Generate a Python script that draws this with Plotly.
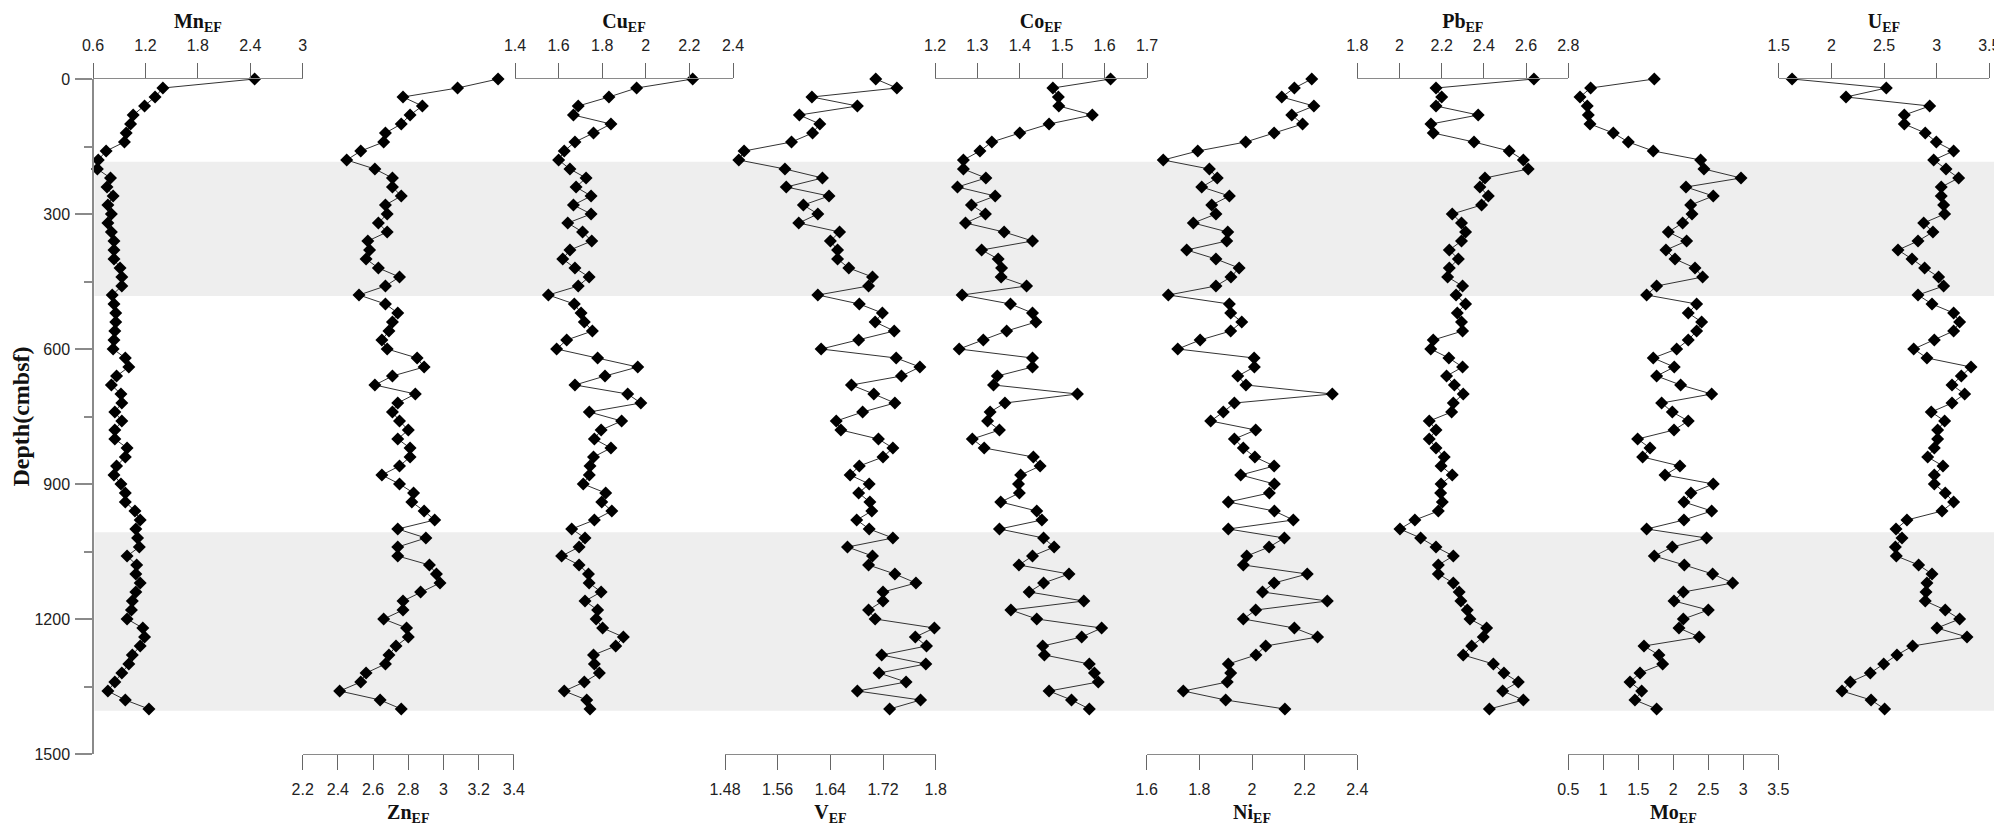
import plotly.graph_objects as go

# ---------------- data ----------------
depth = list(range(0, 1401, 20))

mn = [2.45, 1.40, 1.31, 1.19, 1.06, 1.03, 0.98, 0.96, 0.75, 0.66,
      0.65, 0.80, 0.76, 0.83, 0.77, 0.81, 0.77, 0.81, 0.84, 0.84,
      0.84, 0.91, 0.93, 0.93, 0.82, 0.84, 0.86, 0.86, 0.85, 0.84,
      0.83, 0.97, 1.01, 0.87, 0.81, 0.92, 0.93, 0.85, 0.93, 0.85,
      0.85, 0.99, 0.97, 0.87, 0.84, 0.92, 0.97, 0.97, 1.08, 1.14,
      1.09, 1.11, 1.13, 0.99, 1.10, 1.09, 1.14, 1.09, 1.05, 1.04,
      0.99, 1.17, 1.19, 1.14, 1.05, 1.01, 0.93, 0.85, 0.77, 0.97,
      1.24]

zn = [3.31, 3.08, 2.77, 2.88, 2.81, 2.76, 2.67, 2.66, 2.53, 2.45,
      2.61, 2.71, 2.71, 2.76, 2.67, 2.68, 2.63, 2.68, 2.57, 2.58,
      2.56, 2.63, 2.75, 2.67, 2.52, 2.67, 2.74, 2.71, 2.69, 2.65,
      2.68, 2.85, 2.89, 2.71, 2.61, 2.84, 2.74, 2.71, 2.75, 2.80,
      2.74, 2.81, 2.81, 2.75, 2.65, 2.75, 2.83, 2.82, 2.89, 2.95,
      2.74, 2.90, 2.74, 2.74, 2.92, 2.96, 2.98, 2.87, 2.77, 2.77,
      2.66, 2.79, 2.80, 2.73, 2.69, 2.67, 2.56, 2.53, 2.41, 2.64,
      2.76]

cu = [2.215, 1.958, 1.831, 1.690, 1.668, 1.840, 1.760, 1.675, 1.626, 1.600,
      1.652, 1.726, 1.680, 1.749, 1.668, 1.749, 1.642, 1.710, 1.752, 1.652,
      1.619, 1.675, 1.740, 1.690, 1.553, 1.672, 1.703, 1.718, 1.755, 1.637,
      1.591, 1.779, 1.963, 1.813, 1.675, 1.917, 1.977, 1.741, 1.889, 1.795,
      1.764, 1.840, 1.760, 1.744, 1.741, 1.713, 1.816, 1.798, 1.844, 1.764,
      1.660, 1.721, 1.694, 1.614, 1.694, 1.737, 1.740, 1.795, 1.721, 1.779,
      1.772, 1.802, 1.897, 1.862, 1.760, 1.764, 1.787, 1.718, 1.626, 1.729,
      1.744]

v = [1.709, 1.741, 1.612, 1.681, 1.593, 1.624, 1.613, 1.581, 1.509, 1.501,
     1.571, 1.628, 1.573, 1.638, 1.599, 1.621, 1.592, 1.654, 1.640, 1.651,
     1.651, 1.668, 1.704, 1.698, 1.621, 1.684, 1.719, 1.708, 1.737, 1.683,
     1.626, 1.740, 1.776, 1.748, 1.672, 1.706, 1.738, 1.689, 1.649, 1.656,
     1.713, 1.735, 1.720, 1.684, 1.670, 1.699, 1.683, 1.700, 1.703, 1.680,
     1.699, 1.735, 1.666, 1.704, 1.698, 1.738, 1.770, 1.720, 1.720, 1.698,
     1.708, 1.798, 1.769, 1.786, 1.718, 1.785, 1.714, 1.755, 1.681, 1.777,
     1.730]

co = [1.614, 1.478, 1.491, 1.492, 1.571, 1.469, 1.400, 1.334, 1.306, 1.267,
      1.267, 1.320, 1.253, 1.342, 1.286, 1.319, 1.272, 1.363, 1.430, 1.310,
      1.349, 1.357, 1.356, 1.416, 1.264, 1.378, 1.430, 1.438, 1.369, 1.314,
      1.257, 1.430, 1.430, 1.347, 1.338, 1.536, 1.365, 1.330, 1.324, 1.352,
      1.288, 1.316, 1.432, 1.448, 1.402, 1.397, 1.399, 1.355, 1.440, 1.452,
      1.352, 1.456, 1.481, 1.430, 1.398, 1.516, 1.456, 1.422, 1.551, 1.379,
      1.440, 1.593, 1.546, 1.454, 1.458, 1.564, 1.576, 1.585, 1.469, 1.522,
      1.564]

ni = [2.227, 2.161, 2.113, 2.235, 2.151, 2.192, 2.084, 1.976, 1.794, 1.663,
      1.838, 1.868, 1.809, 1.914, 1.847, 1.863, 1.777, 1.908, 1.904, 1.752,
      1.863, 1.951, 1.920, 1.863, 1.682, 1.914, 1.919, 1.961, 1.919, 1.803,
      1.718, 2.008, 2.009, 1.946, 1.977, 2.305, 1.933, 1.891, 1.843, 2.014,
      1.933, 1.967, 2.011, 2.084, 1.957, 2.085, 2.066, 1.910, 2.085, 2.157,
      1.910, 2.123, 2.065, 1.980, 1.967, 2.210, 2.084, 2.040, 2.286, 2.014,
      1.967, 2.161, 2.249, 2.052, 2.015, 1.910, 1.919, 1.906, 1.739, 1.900,
      2.125]

pb = [2.637, 2.173, 2.200, 2.173, 2.373, 2.149, 2.160, 2.353, 2.520, 2.587,
      2.610, 2.405, 2.381, 2.421, 2.389, 2.250, 2.294, 2.313, 2.294, 2.236,
      2.279, 2.236, 2.228, 2.299, 2.268, 2.313, 2.274, 2.294, 2.299, 2.160,
      2.148, 2.234, 2.299, 2.223, 2.260, 2.302, 2.255, 2.247, 2.141, 2.173,
      2.141, 2.173, 2.212, 2.197, 2.250, 2.197, 2.195, 2.203, 2.184, 2.073,
      2.002, 2.100, 2.173, 2.255, 2.184, 2.184, 2.255, 2.283, 2.291, 2.321,
      2.334, 2.413, 2.397, 2.342, 2.302, 2.445, 2.495, 2.563, 2.489, 2.587,
      2.426]

mo = [1.729, 0.819, 0.667, 0.771, 0.786, 0.810, 1.143, 1.357, 1.714, 2.390,
      2.438, 2.967, 2.181, 2.571, 2.248, 2.267, 2.133, 1.929, 2.190, 1.895,
      2.024, 2.310, 2.419, 1.762, 1.619, 2.333, 2.214, 2.405, 2.333, 2.214,
      2.048, 1.714, 2.014, 1.762, 2.105, 2.548, 1.833, 1.986, 2.214, 2.010,
      1.490, 1.667, 1.562, 2.095, 1.881, 2.571, 2.252, 2.152, 2.548, 2.152,
      1.619, 2.476, 1.986, 1.729, 2.157, 2.562, 2.848, 2.143, 2.010, 2.500,
      2.143, 2.081, 2.371, 1.581, 1.795, 1.848, 1.524, 1.381, 1.548, 1.452,
      1.762]

u = [1.627, 2.522, 2.139, 2.934, 2.693, 2.693, 2.892, 2.997, 3.161, 2.972,
     3.089, 3.209, 3.044, 3.044, 3.066, 3.076, 2.877, 2.965, 2.823, 2.633,
     2.766, 2.886, 3.019, 3.066, 2.823, 2.956, 3.161, 3.218, 3.161, 2.978,
     2.782, 2.908, 3.326, 3.234, 3.146, 3.266, 3.146, 2.949, 3.076, 3.009,
     3.009, 2.978, 2.915, 3.060, 2.978, 2.978, 3.082, 3.161, 3.051, 2.718,
     2.614, 2.671, 2.608, 2.617, 2.829, 2.956, 2.908, 2.899, 2.892, 3.082,
     3.218, 3.003, 3.288, 2.772, 2.623, 2.497, 2.370, 2.180, 2.101, 2.377,
     2.506]

# tick labels
mn_ticks = [0.6, 1.2, 1.8, 2.4, 3]
zn_ticks = [2.2, 2.4, 2.6, 2.8, 3, 3.2, 3.4]
cu_ticks = [1.4, 1.6, 1.8, 2, 2.2, 2.4]
v_ticks = [1.48, 1.56, 1.64, 1.72, 1.8]
co_ticks = [1.2, 1.3, 1.4, 1.5, 1.6, 1.7]
ni_ticks = [1.6, 1.8, 2, 2.2, 2.4]
pb_ticks = [1.8, 2, 2.2, 2.4, 2.6, 2.8]
mo_ticks = [0.5, 1, 1.5, 2, 2.5, 3, 3.5]
u_ticks = [1.5, 2, 2.5, 3, 3.5]
depth_ticks = [0, 300, 600, 900, 1200, 1500]
depth_minor = [150, 450, 750, 1050, 1350]

# shaded intervals (depth)
bands = [(184, 482), (1007, 1404)]

# ---------------- layout helpers ----------------
# The page body adds an 8 px margin on every side; the figure is sized so the
# page never overflows the 2002x834 window, and positions below are window px.
OFF = 8
W, H = 2002 - OFF, 834 - 2 * OFF
L, R, T = 93 - OFF, 0, 79 - OFF
B = H - (754 - OFF)
PW = W - L - R

def px(xwin):
    return (xwin - OFF - L) / PW

panels = [
    ("Mn", mn, mn_ticks, "top", (92.7, 302.7)),
    ("Zn", zn, zn_ticks, "bottom", (302.7, 513.9)),
    ("Cu", cu, cu_ticks, "top", (515.0, 733.0)),
    ("V", v, v_ticks, "bottom", (725.0, 935.7)),
    ("Co", co, co_ticks, "top", (935.0, 1147.0)),
    ("Ni", ni, ni_ticks, "bottom", (1146.7, 1357.3)),
    ("Pb", pb, pb_ticks, "top", (1357.3, 1568.3)),
    ("Mo", mo, mo_ticks, "bottom", (1568.3, 1778.3)),
    ("U", u, u_ticks, "top", (1778.7, 1989.3)),
]

AX_COLOR = "#8a8a8a"
TICK_FONT = dict(family="Liberation Sans, Arial, sans-serif", size=16, color="#222222")
TITLE_FONT = dict(family="Liberation Serif, Times New Roman, serif", size=20, color="#111111")

fig = go.Figure()
layout = {}

for i, (name, vals, ticks, side, (p0, p1)) in enumerate(panels):
    axname = "xaxis" if i == 0 else f"xaxis{i+1}"
    ref = "x" if i == 0 else f"x{i+1}"
    d0 = max(0.0, px(p0))
    d1 = min(1.0, px(p1))
    fig.add_trace(go.Scatter(
        x=vals, y=depth, xaxis=ref, yaxis="y",
        mode="lines+markers",
        line=dict(color="#333333", width=1),
        marker=dict(symbol="diamond", size=10, color="#000000"),
        cliponaxis=False, showlegend=False, hoverinfo="x+y",
    ))
    layout[axname] = dict(
        domain=[d0, d1], range=[ticks[0], ticks[-1]], anchor="y", side=side,
        tickmode="array", tickvals=ticks, ticktext=[f"{t:g}" for t in ticks],
        showline=True, linecolor=AX_COLOR, linewidth=1,
        ticks="outside", ticklen=15, tickwidth=1, tickcolor="#666666",
        tickfont=TICK_FONT, ticklabelstandoff=6,
        showgrid=False, zeroline=False, automargin=False,
        title=dict(text=f"<b>{name}<sub>EF</sub></b>", font=TITLE_FONT,
                   standoff=2 if side == "top" else 8),
        fixedrange=True,
    )

layout["yaxis"] = dict(
    domain=[0, 1], range=[1500, 0], anchor="free", position=0,
    tickmode="array", tickvals=depth_ticks, ticktext=[str(t) for t in depth_ticks],
    showline=True, linecolor=AX_COLOR, linewidth=1.5,
    ticks="outside", ticklen=17, tickwidth=1.5, tickcolor=AX_COLOR,
    minor=dict(tickmode="array", tickvals=depth_minor, ticks="outside",
               ticklen=8, tickwidth=1.5, tickcolor=AX_COLOR),
    tickfont=TICK_FONT, ticklabelstandoff=2,
    showgrid=False, zeroline=False, automargin=False,
    title=dict(text="<b>Depth(cmbsf)</b>",
               font=dict(family="Liberation Serif, Times New Roman, serif", size=24, color="#111111"),
               standoff=10),
    fixedrange=True,
)

shapes = []
band_right = [px(1995), 1.0]
for (b0, b1), xr in zip(bands, band_right):
    shapes.append(dict(type="rect", xref="paper", yref="y",
                       x0=px(94.5), x1=xr, y0=b0, y1=b1,
                       fillcolor="#eeeeee", line=dict(width=0), layer="below"))

fig.update_layout(
    template="none",
    width=W, height=H,
    margin=dict(l=L, r=R, t=T, b=B, pad=0),
    paper_bgcolor="white", plot_bgcolor="rgba(0,0,0,0)",
    font=dict(family="Liberation Sans, Arial, sans-serif"),
    shapes=shapes,
    showlegend=False,
    **layout,
)

fig.write_html("out.html")
